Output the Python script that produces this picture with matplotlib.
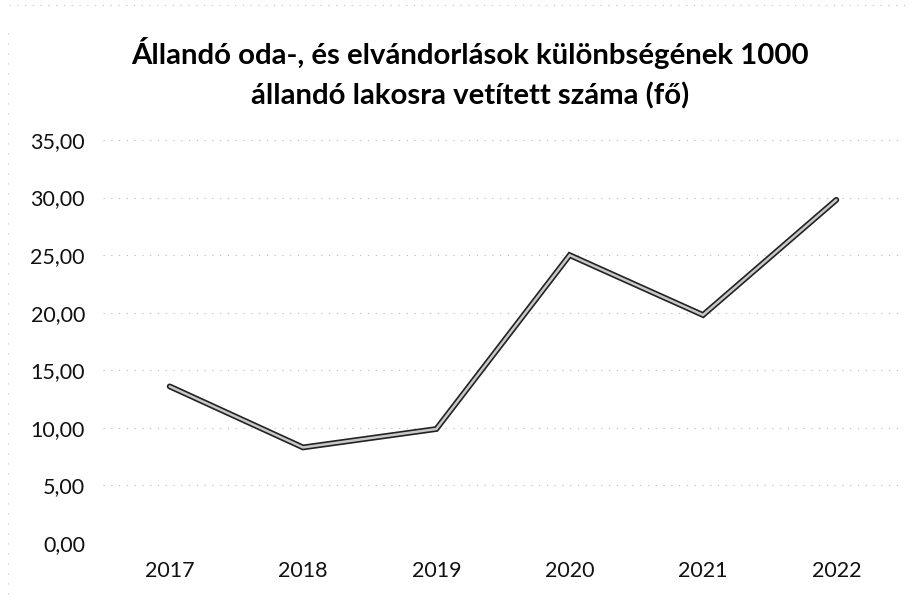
import matplotlib.pyplot as plt
from matplotlib.ticker import FuncFormatter, MultipleLocator
from matplotlib.lines import Line2D

years = ['2017', '2018', '2019', '2020', '2021', '2022']
values = [13.6, 8.3, 9.9, 25.0, 19.8, 29.8]

title = 'Állandó oda-, és elvándorlások különbségének 1000\nállandó lakosra vetített száma (fő)'

plt.rcParams['font.family'] = ['Lato', 'DejaVu Sans']

fig = plt.figure(figsize=(9.18, 6), dpi=100)
ax = fig.add_axes([103 / 918, (600 - 543) / 600, 800 / 918, 403 / 600])

x = list(range(len(years)))
# double line: dark outline with light core
ax.plot(x, values, color='#222222', lw=4.2, solid_capstyle='round', solid_joinstyle='miter', zorder=3)
ax.plot(x, values, color='#c8c8c8', lw=1.8, solid_capstyle='round', solid_joinstyle='miter', zorder=4)

ax.set_xlim(-0.5, 5.5)
ax.set_ylim(0, 35)
ax.yaxis.set_major_locator(MultipleLocator(5))
ax.yaxis.set_major_formatter(FuncFormatter(lambda v, p: f'{v:.2f}'.replace('.', ',')))
ax.set_xticks(x)
ax.set_xticklabels(years)

ax.grid(axis='y', color='#b8b8b8', linestyle=(0, (1, 6)), lw=0.8)
for s in ax.spines.values():
    s.set_visible(False)
ax.tick_params(axis='both', length=0, labelsize=15.5, colors='#111111')
ax.tick_params(axis='y', pad=13)
ax.tick_params(axis='x', pad=13)

fig.text(0.512, 1 - 73.5 / 600, title, ha='center', va='center', fontsize=21.2,
         fontweight='bold', linespacing=1.6)

# faint dotted frame from the scanned original
fig.add_artist(Line2D([0.01, 0.99], [0.992, 0.992], transform=fig.transFigure,
                      color='#c0c0c0', lw=0.8, linestyle=(0, (1, 6))))
fig.add_artist(Line2D([0.009, 0.009], [0.01, 0.95], transform=fig.transFigure,
                      color='#c0c0c0', lw=0.8, linestyle=(0, (1, 8))))

fig.savefig('out.png', dpi=100)
